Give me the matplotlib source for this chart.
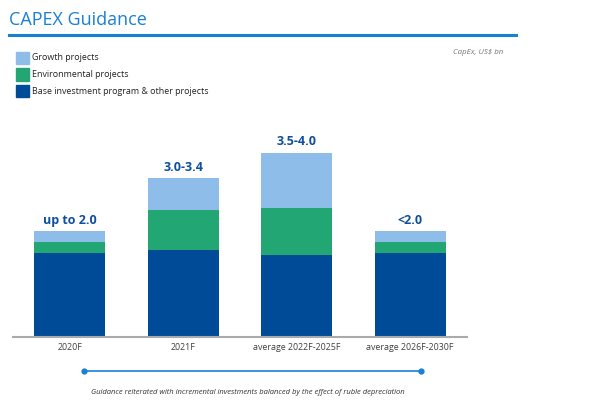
import matplotlib.pyplot as plt
from matplotlib.patches import Rectangle
from matplotlib.lines import Line2D

categories = ["2020F", "2021F", "average 2022F-2025F", "average 2026F-2030F"]
base = [1.59, 1.64, 1.56, 1.59]
environmental = [0.20, 0.76, 0.88, 0.20]
growth = [0.21, 0.60, 1.05, 0.21]
total_labels = ["up to 2.0", "3.0-3.4", "3.5-4.0", "<2.0"]

legend_names = ["Growth projects", "Environmental projects",
                "Base investment program & other projects"]

c_growth = "#8dbde8"
c_env = "#22a674"
c_base = "#004b97"
c_title = "#1a7fd6"
c_label = "#0e4f9e"

plt.rcParams["font.family"] = ["Open Sans", "DejaVu Sans"]

W, H = 590, 401
fig = plt.figure(figsize=(W / 100, H / 100), dpi=100)

def px(x, y):
    # pixel coords (from top-left) to figure fraction
    return x / W, 1 - y / H

# title and rule
fig.text(*px(9, 20), "CAPEX Guidance", fontsize=13, color=c_title,
         va="center", ha="left")
fig.add_artist(Line2D([9 / W, 516 / W], [1 - 35 / H, 1 - 35 / H],
                      color=c_title, lw=2.2, transform=fig.transFigure))

# legend, drawn by hand as in the slide
for i, (name, col) in enumerate(zip(legend_names, [c_growth, c_env, c_base])):
    y0 = 52 + i * 16.5
    fig.add_artist(Rectangle(px(16, y0 + 12), 13 / W, 12 / H, color=col,
                             transform=fig.transFigure))
    fig.text(*px(32, y0 + 6), name, fontsize=6.4, color="#222222",
             va="center", ha="left")

fig.text(*px(503, 53), "CapEx, US$ bn", fontsize=5.7, color="#777777",
         style="italic", va="center", ha="right")

# bars
ax = fig.add_axes([13 / W, 64 / H, 454 / W, 211.4 / H])
xs = range(len(categories))
env_bottom = base
growth_bottom = [b + e for b, e in zip(base, environmental)]
width = 0.625
ax.bar(xs, base, width, color=c_base)
ax.bar(xs, environmental, width, bottom=env_bottom, color=c_env)
ax.bar(xs, growth, width, bottom=growth_bottom, color=c_growth)

for x, gb, g, lab in zip(xs, growth_bottom, growth, total_labels):
    ax.annotate(lab, (x, gb + g), xytext=(0, 3), textcoords="offset points",
                ha="center", va="bottom", fontsize=9, fontweight="bold",
                color=c_label, annotation_clip=False)

ax.set_xlim(-0.5, 3.5)
ax.set_ylim(0, 4.0)
ax.set_yticks([])
ax.set_xticks(list(xs))
ax.set_xticklabels(categories, fontsize=6.4, color="#404040")
ax.tick_params(axis="x", length=0, pad=4)
for s in ["top", "right", "left"]:
    ax.spines[s].set_visible(False)
ax.spines["bottom"].set_color("#aaaaaa")
ax.spines["bottom"].set_linewidth(1.5)
ax.patch.set_alpha(0)

# footnote line with dots
fig.add_artist(Line2D([84 / W, 421 / W], [1 - 370.7 / H, 1 - 370.7 / H],
                      color=c_title, lw=1.2, marker="o", markersize=3.5,
                      markevery=[0, 1], transform=fig.transFigure))
fig.text(*px(248, 392), "Guidance reiterated with incremental investments "
         "balanced by the effect of ruble depreciation", fontsize=5.5,
         color="#333333", style="italic", ha="center", va="center")

fig.savefig("out.png", dpi=100)
